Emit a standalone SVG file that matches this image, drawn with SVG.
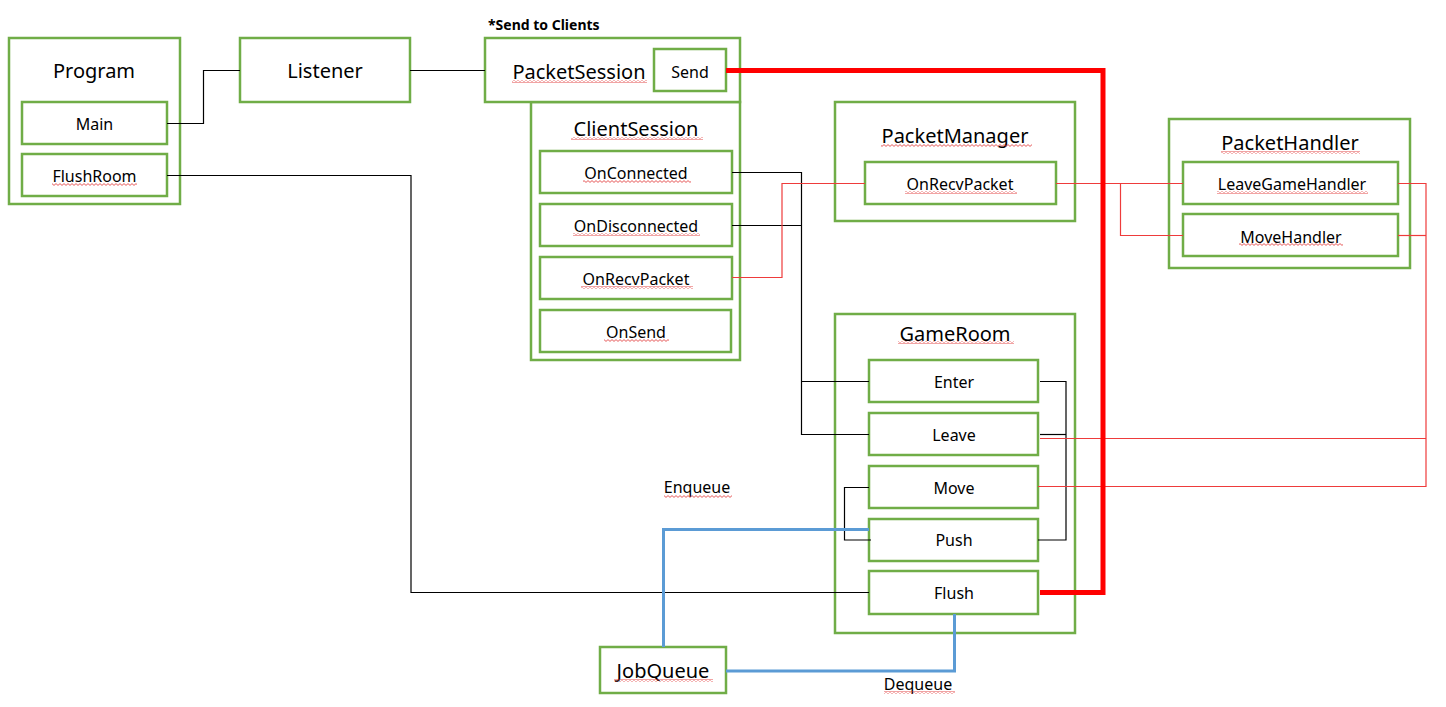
<svg xmlns="http://www.w3.org/2000/svg" width="1446" height="707" viewBox="0 0 1446 707">
<style>
.box{fill:#fff;stroke:#70ad47;stroke-width:2.5}
.t{font-family:"Noto Sans","Open Sans","Liberation Sans",sans-serif;fill:#000;text-anchor:middle}
.tt{font-size:20px}
.ts{font-size:16px}
.blk{fill:none;stroke:#000;stroke-width:1.2}
.rt{fill:none;stroke:#ee3b3b;stroke-width:1.2}
.rk{fill:none;stroke:#ff0000;stroke-width:5}
.bl{fill:none;stroke:#5b9bd5;stroke-width:3}
.sq{fill:url(#squig)}
</style>
<defs>
<pattern id="squig" x="0" y="0" width="4" height="3" patternUnits="userSpaceOnUse">
<path d="M0,0.6 L2,2.4 L4,0.6" fill="none" stroke="#e03030" stroke-width="0.8"/>
</pattern>
</defs>
<rect width="1446" height="707" fill="#fff"/>

<g id="program">
<rect class="box" x="9" y="38" width="171" height="166"/>
<text class="t tt" x="94" y="78">Program</text>
</g>
<g id="main">
<rect class="box" x="22" y="102" width="145" height="42"/>
<text class="t ts" x="94.5" y="130">Main</text>
</g>
<g id="flushroom">
<rect class="box" x="22" y="154" width="145" height="42"/>
<text class="t ts" x="94.5" y="182">FlushRoom</text>
<rect class="sq" x="52" y="183" width="85" height="3"/>
</g>
<g id="listener">
<rect class="box" x="240" y="38" width="170" height="64"/>
<text class="t tt" x="325" y="78">Listener</text>
</g>
<g id="send-note">
<text x="488" y="30" font-family="'Noto Sans','Open Sans','Liberation Sans',sans-serif" font-size="14" font-weight="bold">*Send to Clients</text>
</g>
<g id="clientsession">
<rect class="box" x="531" y="102" width="209" height="258"/>
<text class="t tt" x="636" y="136">ClientSession</text>
<rect class="sq" x="571" y="137" width="132" height="3"/>
</g>
<g id="packetsession">
<rect class="box" x="485" y="38" width="255" height="64"/>
<text class="t tt" x="579" y="79">PacketSession</text>
<rect class="sq" x="512" y="80" width="135" height="3"/>
</g>
<g id="send">
<rect class="box" x="654" y="49" width="72" height="42"/>
<text class="t ts" x="690" y="77.5">Send</text>
</g>
<g id="onconnected">
<rect class="box" x="540" y="151" width="192" height="42"/>
<text class="t ts" x="636" y="179">OnConnected</text>
<rect class="sq" x="583" y="180" width="108" height="3"/>
</g>
<g id="ondisconnected">
<rect class="box" x="540" y="204" width="192" height="42"/>
<text class="t ts" x="636" y="232">OnDisconnected</text>
<rect class="sq" x="573" y="233" width="127" height="3"/>
</g>
<g id="onrecvpacket-cs">
<rect class="box" x="540" y="257" width="192" height="42"/>
<text class="t ts" x="636" y="285">OnRecvPacket</text>
<rect class="sq" x="581" y="286" width="112" height="3"/>
</g>
<g id="onsend">
<rect class="box" x="540" y="310" width="191" height="42"/>
<text class="t ts" x="636" y="338">OnSend</text>
<rect class="sq" x="604" y="339" width="65" height="3"/>
</g>
<g id="packetmanager">
<rect class="box" x="835" y="102" width="240" height="119"/>
<text class="t tt" x="955" y="143">PacketManager</text>
<rect class="sq" x="881" y="144" width="151" height="3"/>
</g>
<g id="onrecvpacket-pm">
<rect class="box" x="865" y="162" width="191" height="42"/>
<text class="t ts" x="960" y="190">OnRecvPacket</text>
<rect class="sq" x="905" y="191" width="112" height="3"/>
</g>
<g id="packethandler">
<rect class="box" x="1169" y="119" width="241" height="149"/>
<text class="t tt" x="1290" y="150">PacketHandler</text>
<rect class="sq" x="1221" y="151" width="139" height="3"/>
</g>
<g id="leavegamehandler">
<rect class="box" x="1183" y="162" width="215" height="42"/>
<text class="t ts" x="1292" y="190">LeaveGameHandler</text>
<rect class="sq" x="1217" y="191" width="151" height="3"/>
</g>
<g id="movehandler">
<rect class="box" x="1183" y="214" width="215" height="42"/>
<text class="t ts" x="1291" y="242.5">MoveHandler</text>
<rect class="sq" x="1239" y="243" width="104" height="3"/>
</g>
<g id="gameroom">
<rect class="box" x="835" y="314" width="240" height="319"/>
<text class="t tt" x="955" y="340.5">GameRoom</text>
<rect class="sq" x="898" y="341" width="116" height="3"/>
</g>
<g id="enter">
<rect class="box" x="869" y="360" width="169" height="42"/>
<text class="t ts" x="954" y="388">Enter</text>
</g>
<g id="leave">
<rect class="box" x="869" y="413" width="169" height="42"/>
<text class="t ts" x="954" y="441">Leave</text>
</g>
<g id="move">
<rect class="box" x="869" y="466" width="169" height="42"/>
<text class="t ts" x="954" y="493.5">Move</text>
</g>
<g id="push">
<rect class="box" x="869" y="519" width="169" height="42"/>
<text class="t ts" x="954" y="546">Push</text>
</g>
<g id="flush">
<rect class="box" x="869" y="571" width="169" height="43"/>
<text class="t ts" x="954" y="599">Flush</text>
</g>
<g id="jobqueue">
<rect class="box" x="600" y="647" width="126" height="46"/>
<text class="t tt" x="663" y="678">JobQueue</text>
<rect class="sq" x="614" y="679" width="99" height="3"/>
</g>

<g id="connectors">
<polyline class="blk" points="167,123.5 203.5,123.5 203.5,70.5 240,70.5"/>
<polyline class="blk" points="410,70.5 485,70.5"/>
<polyline class="blk" points="167,175.5 411,175.5 411,592.5 869,592.5"/>
<polyline class="blk" points="732,172.5 801.5,172.5 801.5,434.5 869,434.5"/>
<polyline class="blk" points="732,225.5 801.5,225.5"/>
<polyline class="blk" points="801.5,381.5 869,381.5"/>
<polyline class="blk" points="1040,381.5 1066,381.5 1066,540 1038,540"/>
<polyline class="blk" points="1040,434.5 1066,434.5"/>
<polyline class="blk" points="869,487.5 844.5,487.5 844.5,540 871,540"/>
<polyline class="rt" points="732,277.5 782,277.5 782,183.5 865,183.5"/>
<polyline class="rt" points="1056,183.5 1183,183.5"/>
<polyline class="rt" points="1120.5,183.5 1120.5,235.5 1183,235.5"/>
<polyline class="rt" points="1398,183.5 1426,183.5 1426,486.5 1038,486.5"/>
<polyline class="rt" points="1398,235.5 1426,235.5"/>
<polyline class="rt" points="1426,438.5 1040,438.5"/>
<polyline class="rk" points="726,70.5 1103,70.5 1103,592.5 1040,592.5"/>
<polyline class="bl" points="869,529.5 663.5,529.5 663.5,647"/>
<polyline class="bl" points="954.5,614 954.5,671 726,671"/>
</g>
<g id="labels">
<text class="t ts" x="697" y="493">Enqueue</text>
<rect class="sq" x="664" y="495" width="68" height="3"/>
<text class="t ts" x="918" y="690">Dequeue</text>
<rect class="sq" x="884" y="691" width="71" height="3"/>
</g>
</svg>
